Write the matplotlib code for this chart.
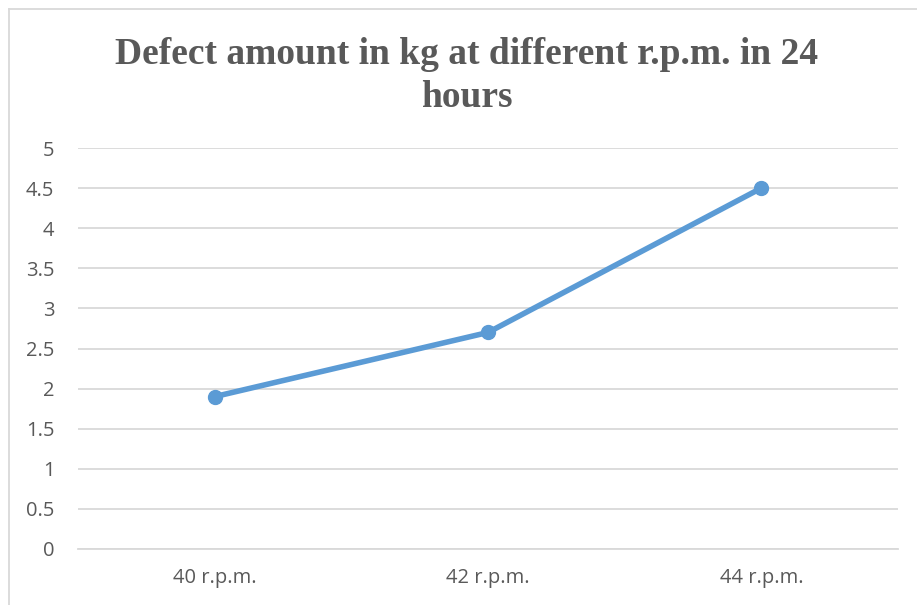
import matplotlib
matplotlib.use("Agg")
import matplotlib.pyplot as plt
from matplotlib.lines import Line2D

categories = ["40 r.p.m.", "42 r.p.m.", "44 r.p.m."]
defect_kg = [1.9, 2.7, 4.5]
y_ticks = [0, 0.5, 1, 1.5, 2, 2.5, 3, 3.5, 4, 4.5, 5]
y_tick_labels = ["0", "0.5", "1", "1.5", "2", "2.5", "3", "3.5", "4", "4.5", "5"]
title = "Defect amount in kg at different r.p.m. in 24\nhours"

W, H = 917, 605
fig = plt.figure(figsize=(W / 100, H / 100), dpi=100)
fig.patch.set_facecolor("white")

ax = fig.add_axes([78 / W, 1 - 549 / H, (898 - 78) / W, (549 - 148) / H])
x = list(range(len(categories)))
ax.plot(x, defect_kg, color="#5B9BD5", linewidth=4.0, marker="o",
        markersize=10, solid_capstyle="round", zorder=3)

ax.set_xlim(-0.5, len(categories) - 0.5)
ax.set_ylim(0, 5)
ax.set_yticks(y_ticks)
ax.set_yticklabels(y_tick_labels)
ax.set_xticks(x)
ax.set_xticklabels(categories)
ax.grid(axis="y", color="#D9D9D9", linewidth=1.3, zorder=0)
ax.set_axisbelow(True)
for side in ["left", "right", "top"]:
    ax.spines[side].set_visible(False)
ax.spines["bottom"].set_color("#D9D9D9")
ax.spines["bottom"].set_linewidth(1.3)
ax.tick_params(axis="both", length=0, labelsize=14.5, labelcolor="#595959")
ax.tick_params(axis="y", pad=17)
ax.tick_params(axis="x", pad=14)
for lbl in ax.get_xticklabels() + ax.get_yticklabels():
    lbl.set_fontfamily("Open Sans")

fig.text(467 / W, 1 - 76 / H, title, ha="center", va="center",
         fontsize=27, fontweight="bold", family="Liberation Serif",
         color="#595959", linespacing=1.3)

# chart frame (left and top edges)
fig.add_artist(Line2D([8.5 / W, 8.5 / W], [0, 1 - 9 / H], transform=fig.transFigure,
                      color="#D9D9D9", linewidth=1.3))
fig.add_artist(Line2D([8.5 / W, 1], [1 - 9 / H, 1 - 9 / H], transform=fig.transFigure,
                      color="#D9D9D9", linewidth=1.3))

fig.savefig("out.png", dpi=100)
